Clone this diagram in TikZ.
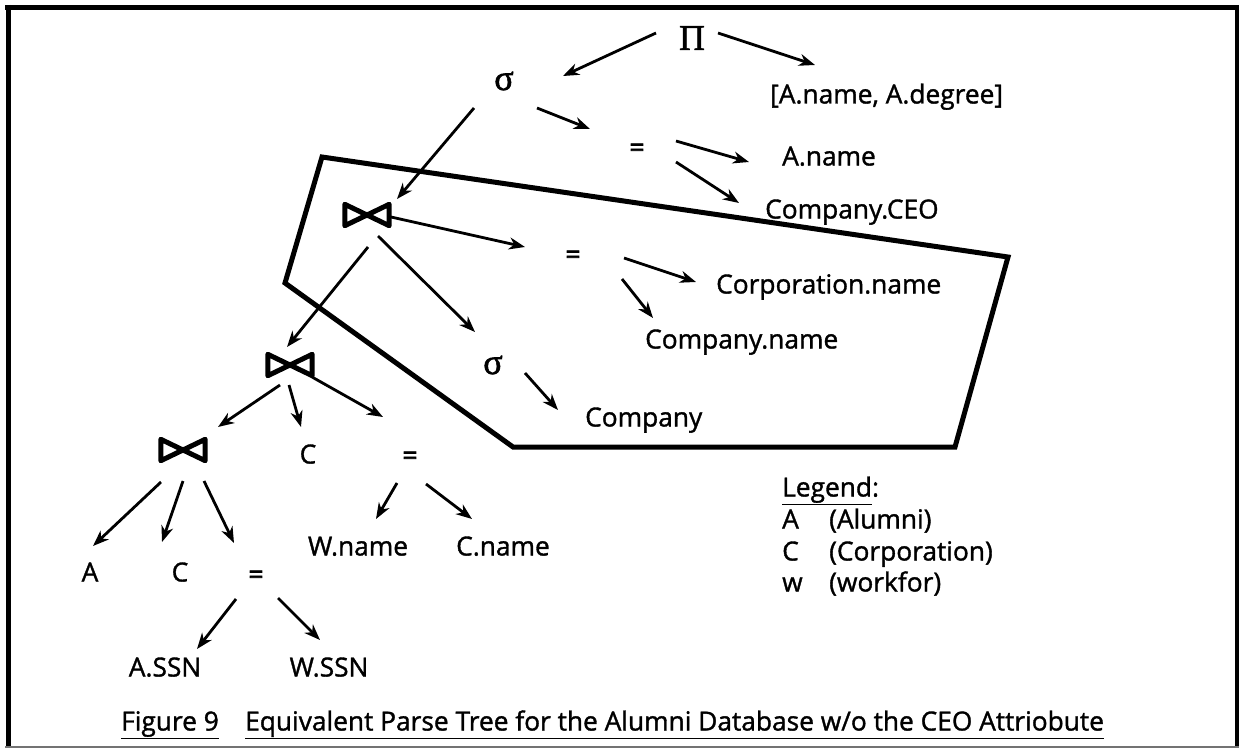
\documentclass[tikz,border=0pt]{standalone}
\usepackage{fontspec}
\setmainfont{Open Sans}
\newfontfamily\labelfont{Open Sans}[FakeBold=1.3]
\newfontfamily\eqfont{Open Sans}[FakeBold=3]
\newfontfamily\greekfont{Liberation Serif}[FakeBold=1.5]
\usetikzlibrary{arrows.meta,calc}

\begin{document}
\begin{tikzpicture}[x=1pt,y=-1pt,
  lbl/.style={font=\labelfont\fontsize{26.3}{30}\selectfont, inner sep=0pt,
              text height=18pt, text depth=1pt},
  wlbl/.style={lbl, anchor=west},
  eqsign/.style={lbl, font=\eqfont\fontsize{26.3}{30}\selectfont},
  greek/.style={font=\greekfont\fontsize{36}{40}\selectfont, inner sep=0pt},
  bow/.style={minimum width=44pt, minimum height=21pt, inner sep=0pt},
  bowline/.style={line width=5pt, line join=round},
  arr/.style={line width=2.8pt, -{Stealth[length=16pt,width=12pt,inset=5pt]}},
  hull/.style={line width=5pt, line join=miter},
  frame/.style={line width=5pt}]

\useasboundingbox (0,0) rectangle (1241,749);

% outer frame
\draw[frame] (5,8) -- (1239,8);
\draw[frame] (8,5) -- (8,748);
\draw[line width=4pt] (1237,5) -- (1237,748);
\draw[line width=1.6pt, black!55] (5,747) -- (1239,747);

% operator and operand nodes
\node[greek]  (pi)   at (692,38) {Π};
\node[wlbl]   (proj) at (770,95) {[A.name, A.degree]};
\node[greek]  (sig1) at (504,81) {σ};
\node[eqsign] (eq1)  at (637,148) {=};
\node[wlbl]   (aname) at (782,157) {A.name};
\node[wlbl]   (ceo)  at (765,210) {Company.CEO};
\node[bow]    (j1)   at (367,215) {};
\node[eqsign] (eq2)  at (573,255) {=};
\node[wlbl]   (corpname) at (716,285) {Corporation.name};
\node[wlbl]   (compname) at (645,340) {Company.name};
\node[greek]  (sig2) at (493,365) {σ};
\node[wlbl]   (company) at (585,418) {Company};
\node[bow]    (j2)   at (290,365) {};
\node[bow]    (j3)   at (183,450) {};
\node[lbl]    (c1)   at (308,455) {C};
\node[eqsign] (eq3)  at (410,456) {=};
\node[lbl]    (wname) at (358,547) {W.name};
\node[lbl]    (cname) at (503,547) {C.name};
\node[lbl]    (a)    at (90,573) {A};
\node[lbl]    (c2)   at (180,573) {C};
\node[eqsign] (eq4)  at (256,575) {=};
\node[lbl]    (assn) at (165,668) {A.SSN};
\node[lbl]    (wssn) at (329,668) {W.SSN};

% join symbols
\foreach \j in {j1,j2,j3}
  \draw[bowline] (\j.south west) -- (\j.north west) -- (\j.south east)
                 -- (\j.north east) -- cycle;

% rewritten subtree outline
\draw[hull] (322,157) -- (1008,257) -- (955,447) -- (513,447) -- (285,283) -- cycle;

% tree edges
\draw[arr] ([shift={(-36,-5)}]pi.center) -- ([shift={(59,-5)}]sig1.center);
\draw[arr] ([shift={(26,-5)}]pi.center) -- ([shift={(45,-30)}]proj.west);
\draw[arr] ([shift={(33,27)}]sig1.center) -- ([shift={(-47,-19)}]eq1.center);
\draw[arr] ([shift={(-30,27)}]sig1.center) -- ([shift={(30,-16)}]j1.center);
\draw[arr] ([shift={(39,-7)}]eq1.center) -- ([shift={(-33,5)}]aname.west);
\draw[arr] ([shift={(39,14)}]eq1.center) -- ([shift={(-26,-7)}]ceo.west);
\draw[arr] ([shift={(24,2)}]j1.center) -- ([shift={(-48,-8)}]eq2.center);
\draw[arr] ([shift={(51,3)}]eq2.center) -- ([shift={(-20,-3)}]corpname.west);
\draw[arr] ([shift={(49,24)}]eq2.center) -- ([shift={(8,-22)}]compname.west);
\draw[arr] ([shift={(1,32)}]j1.center) -- ([shift={(-3,-18)}]j2.center);
\draw[arr] ([shift={(11,21)}]j1.center) -- ([shift={(-18,-33)}]sig2.center);
\draw[arr] ([shift={(32,8)}]sig2.center) -- ([shift={(-27,-8)}]company.west);
\draw[arr] ([shift={(-10,20)}]j2.center) -- ([shift={(35,-23)}]j3.center);
\draw[arr] ([shift={(-1,20)}]j2.center) -- ([shift={(-7,-28)}]c1.center);
\draw[arr] ([shift={(22,12)}]j2.center) -- ([shift={(-27,-39)}]eq3.center);
\draw[arr] ([shift={(-22,32)}]j3.center) -- ([shift={(3,-27)}]a.center);
\draw[arr] ([shift={(0,31)}]j3.center) -- ([shift={(-18,-31)}]c2.center);
\draw[arr] ([shift={(21,31)}]j3.center) -- ([shift={(-22,-32)}]eq4.center);
\draw[arr] ([shift={(-13,27)}]eq3.center) -- ([shift={(18,-28)}]wname.center);
\draw[arr] ([shift={(16,28)}]eq3.center) -- ([shift={(-31,-28)}]cname.center);
\draw[arr] ([shift={(-20,24)}]eq4.center) -- ([shift={(32,-19)}]assn.center);
\draw[arr] ([shift={(22,23)}]eq4.center) -- ([shift={(-9,-28)}]wssn.center);

% legend
\node[wlbl] (leg)  at (782,488) {\underline{Legend}:};
\node[wlbl] (legA) at (782,520) {A};
\node[wlbl] (legAt) at (829,520) {(Alumni)};
\node[wlbl] (legC) at (782,552) {C};
\node[wlbl] (legCt) at (829,552) {(Corporation)};
\node[wlbl] (legW) at (782,583) {w};
\node[wlbl] (legWt) at (829,583) {(workfor)};

% caption
\node[wlbl] (fig) at (121,722) {\underline{Figure 9}};
\node[wlbl] (cap) at (245,722) {\underline{Equivalent Parse Tree for the Alumni Database w/o the CEO Attriobute}};
\end{tikzpicture}
\end{document}
